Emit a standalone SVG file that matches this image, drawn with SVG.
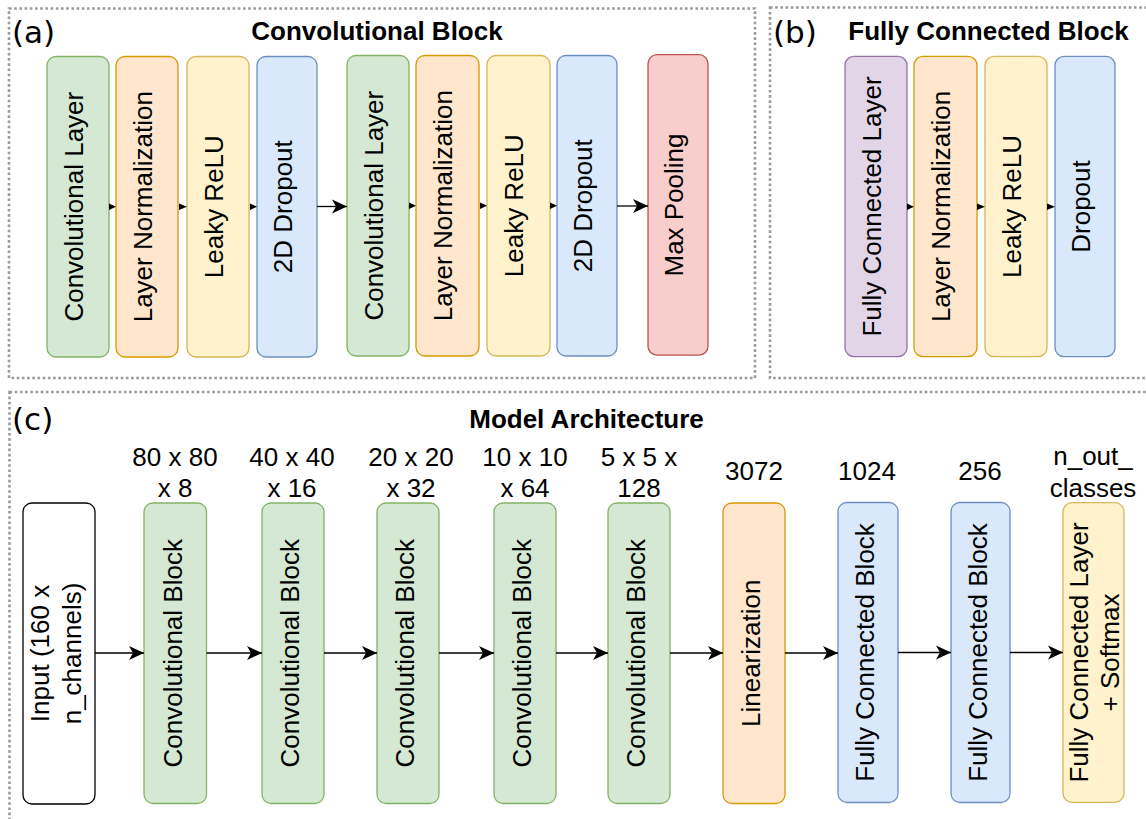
<svg xmlns="http://www.w3.org/2000/svg" width="1146" height="819" viewBox="0 0 1146 819">
<style>
.frame{fill:none;stroke:#9a9a9a;stroke-width:2.6;stroke-dasharray:2.6 2.6}
rect.n{stroke-width:1.3}
.g{fill:#d5e8d4;stroke:#82b366}
.o{fill:#ffe6cc;stroke:#d79b00}
.y{fill:#fff2cc;stroke:#d6b656}
.b{fill:#dae8fc;stroke:#6c8ebf}
.r{fill:#f8cecc;stroke:#b85450}
.p{fill:#e1d5e7;stroke:#9673a6}
.w{fill:#ffffff;stroke:#000000}
text{font-family:"Liberation Sans",Arial,sans-serif;font-size:26px;fill:#000;text-anchor:middle}
text.t{font-weight:bold}
text.lbl{font-family:"DejaVu Sans",sans-serif;font-size:31px;text-anchor:start}
.edge{stroke:#000;stroke-width:1.3;fill:none}
.tri{fill:#000}
</style>
<defs>
<marker id="arr" markerUnits="userSpaceOnUse" markerWidth="16" markerHeight="16" viewBox="-16 -8 16 16" refX="0" refY="0" orient="auto">
<path d="M0,0 L-15,-7 L-11,0 L-15,7 Z" fill="#000"/>
</marker>
</defs>

<g id="frames">
<rect class="frame" x="9" y="8.5" width="746" height="369.5"/>
<rect class="frame" x="770" y="7.5" width="400" height="370.5"/>
<rect class="frame" x="9.5" y="392" width="1160" height="440"/>
</g>

<g id="titles">
<text class="lbl" x="12" y="43">(a)</text>
<text class="lbl" x="773" y="43">(b)</text>
<text class="lbl" x="12" y="430">(c)</text>
<text class="t" x="377" y="40">Convolutional Block</text>
<text class="t" x="988.5" y="40">Fully Connected Block</text>
<text class="t" x="586.5" y="428">Model Architecture</text>
</g>

<!-- (a) Convolutional Block -->
<g id="a1"><rect class="n g" x="47" y="56.5" width="62" height="300.5" rx="9"/><text transform="translate(82.5,206.7) rotate(-90)">Convolutional Layer</text></g>
<g id="a2"><rect class="n o" x="116" y="56.5" width="62" height="300.5" rx="9"/><text transform="translate(151.5,206.7) rotate(-90)">Layer Normalization</text></g>
<g id="a3"><rect class="n y" x="187" y="56.5" width="62" height="300.5" rx="9"/><text transform="translate(222.5,206.7) rotate(-90)">Leaky ReLU</text></g>
<g id="a4"><rect class="n b" x="257" y="56.5" width="60" height="300.5" rx="9"/><text transform="translate(291.5,206.7) rotate(-90)">2D Dropout</text></g>
<g id="a5"><rect class="n g" x="347" y="55.5" width="62" height="300.5" rx="9"/><text transform="translate(382.5,205.7) rotate(-90)">Convolutional Layer</text></g>
<g id="a6"><rect class="n o" x="416" y="55.5" width="63" height="300.5" rx="9"/><text transform="translate(452,205.7) rotate(-90)">Layer Normalization</text></g>
<g id="a7"><rect class="n y" x="487" y="55.5" width="63" height="300.5" rx="9"/><text transform="translate(523,205.7) rotate(-90)">Leaky ReLU</text></g>
<g id="a8"><rect class="n b" x="557" y="55.5" width="60" height="300.5" rx="9"/><text transform="translate(591.5,205.7) rotate(-90)">2D Dropout</text></g>
<g id="a9"><rect class="n r" x="648" y="54.7" width="60" height="300.5" rx="9"/><text transform="translate(682.5,205) rotate(-90)">Max Pooling</text></g>

<!-- (b) Fully Connected Block -->
<g id="b1"><rect class="n p" x="845" y="56.3" width="62" height="300.4" rx="9"/><text transform="translate(880.5,206.5) rotate(-90)">Fully Connected Layer</text></g>
<g id="b2"><rect class="n o" x="914" y="56.3" width="63" height="300.4" rx="9"/><text transform="translate(950,206.5) rotate(-90)">Layer Normalization</text></g>
<g id="b3"><rect class="n y" x="985" y="56.3" width="62" height="300.4" rx="9"/><text transform="translate(1020.5,206.5) rotate(-90)">Leaky ReLU</text></g>
<g id="b4"><rect class="n b" x="1055" y="56.3" width="60" height="300.4" rx="9"/><text transform="translate(1089.5,206.5) rotate(-90)">Dropout</text></g>

<!-- (c) Model Architecture -->
<g id="c0"><rect class="n w" x="23" y="503" width="72" height="301" rx="9"/>
<text transform="translate(49,653.5) rotate(-90)">Input (160 x</text>
<text transform="translate(81,653.5) rotate(-90)">n_channels)</text></g>
<g id="c1"><rect class="n g" x="144" y="503" width="62.5" height="300.5" rx="9"/><text transform="translate(181.5,653.3) rotate(-90)">Convolutional Block</text>
<text x="175" y="466">80 x 80</text><text x="175" y="497">x 8</text></g>
<g id="c2"><rect class="n g" x="262" y="503" width="62" height="300.5" rx="9"/><text transform="translate(299,653.3) rotate(-90)">Convolutional Block</text>
<text x="292" y="466">40 x 40</text><text x="292" y="497">x 16</text></g>
<g id="c3"><rect class="n g" x="377" y="503" width="62" height="300.5" rx="9"/><text transform="translate(414,653.3) rotate(-90)">Convolutional Block</text>
<text x="411" y="466">20 x 20</text><text x="411" y="497">x 32</text></g>
<g id="c4"><rect class="n g" x="494" y="503" width="62" height="300.5" rx="9"/><text transform="translate(531,653.3) rotate(-90)">Convolutional Block</text>
<text x="525" y="466">10 x 10</text><text x="525" y="497">x 64</text></g>
<g id="c5"><rect class="n g" x="608" y="503" width="62" height="300.5" rx="9"/><text transform="translate(645,653.3) rotate(-90)">Convolutional Block</text>
<text x="639" y="466">5 x 5 x</text><text x="639" y="497">128</text></g>
<g id="c6"><rect class="n o" x="723" y="503" width="62" height="300.5" rx="9"/><text transform="translate(760,653.3) rotate(-90)">Linearization</text>
<text x="754" y="480">3072</text></g>
<g id="c7"><rect class="n b" x="838" y="502.5" width="60" height="300" rx="9"/><text transform="translate(874,652.5) rotate(-90)">Fully Connected Block</text>
<text x="867" y="480">1024</text></g>
<g id="c8"><rect class="n b" x="951" y="502.5" width="59" height="300" rx="9"/><text transform="translate(986.5,652.5) rotate(-90)">Fully Connected Block</text>
<text x="980" y="480">256</text></g>
<g id="c9"><rect class="n y" x="1063" y="502.7" width="61" height="299.6" rx="9"/>
<text transform="translate(1088,652.5) rotate(-90)">Fully Connected Layer</text>
<text transform="translate(1119,652.5) rotate(-90)">+ Softmax</text>
<text x="1093" y="465">n_out_</text><text x="1093" y="497">classes</text></g>

<g id="connectors">
<polygon class="tri" points="109,203.5 116,206.7 109,210"/>
<polygon class="tri" points="179,203.5 187,206.7 179,210"/>
<polygon class="tri" points="250,203.5 257,206.7 250,210"/>
<line class="edge" x1="317" y1="206.5" x2="347" y2="206.5" marker-end="url(#arr)"/>
<polygon class="tri" points="409,202.5 416,205.8 409,209"/>
<polygon class="tri" points="480,202.5 487,205.8 480,209"/>
<polygon class="tri" points="550,202.5 557,205.8 550,209"/>
<line class="edge" x1="617" y1="206" x2="648" y2="206" marker-end="url(#arr)"/>
<polygon class="tri" points="907,203.5 914,206.7 907,210"/>
<polygon class="tri" points="977,203.5 985,206.7 977,210"/>
<polygon class="tri" points="1047,203.5 1055,206.7 1047,210"/>
<line class="edge" x1="95" y1="653" x2="144" y2="653" marker-end="url(#arr)"/>
<line class="edge" x1="206.5" y1="653" x2="262" y2="653" marker-end="url(#arr)"/>
<line class="edge" x1="324" y1="653" x2="377" y2="653" marker-end="url(#arr)"/>
<line class="edge" x1="439" y1="653" x2="494" y2="653" marker-end="url(#arr)"/>
<line class="edge" x1="556" y1="653" x2="608" y2="653" marker-end="url(#arr)"/>
<line class="edge" x1="670" y1="653" x2="723" y2="653" marker-end="url(#arr)"/>
<line class="edge" x1="785" y1="653" x2="838" y2="653" marker-end="url(#arr)"/>
<line class="edge" x1="898" y1="652.5" x2="951" y2="652.5" marker-end="url(#arr)"/>
<line class="edge" x1="1010" y1="652.5" x2="1063" y2="652.5" marker-end="url(#arr)"/>
</g>
</svg>
